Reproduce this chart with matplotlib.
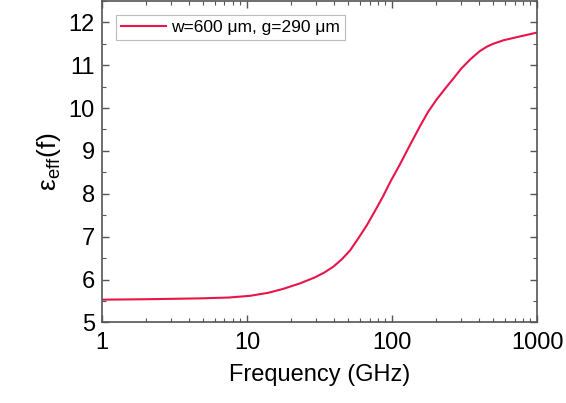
import matplotlib
matplotlib.use("Agg")
import matplotlib.pyplot as plt
from matplotlib.ticker import MultipleLocator, LogLocator, NullFormatter

plt.rcParams['font.family'] = ['Liberation Sans', 'DejaVu Sans']

# values
freq_ghz = [1, 2, 4.7, 7.5, 10.5, 14, 17.7, 23.2, 29.4, 34, 39.4, 45, 51.4, 58, 66.9, 76, 87, 97,
            113.5, 135, 156, 178, 203, 232, 265, 300, 345, 400, 450, 500, 587, 764, 1000]
eps_eff = [5.53, 5.54, 5.56, 5.58, 5.62, 5.69, 5.78, 5.91, 6.05, 6.16, 6.30, 6.47, 6.68, 6.94, 7.26,
           7.59, 7.95, 8.27, 8.69, 9.18, 9.58, 9.92, 10.20, 10.45, 10.69, 10.92, 11.13,
           11.32, 11.43, 11.50, 11.58, 11.67, 11.76]
series_label = 'w=600 μm, g=290 μm'

fig = plt.figure(figsize=(5.66, 4.03), dpi=100)
ax = fig.add_axes([0.180, 0.200, 0.769, 0.798])

ax.plot(freq_ghz, eps_eff, color='#e8144a', lw=1.5, label=series_label)

ax.set_xscale('log')
ax.set_xlim(1, 1000)
ax.set_ylim(5, 12.5)
ax.yaxis.set_major_locator(MultipleLocator(1))
ax.yaxis.set_minor_locator(MultipleLocator(0.5))
ax.xaxis.set_minor_locator(LogLocator(base=10, subs=range(2, 10)))
ax.xaxis.set_minor_formatter(NullFormatter())
ax.set_xticks([1, 10, 100, 1000])
ax.set_xticklabels(['1', '10', '100', '1000'])

for sp in ax.spines.values():
    sp.set_color('#555555')
    sp.set_linewidth(1.2)
ax.tick_params(which='both', direction='in', top=True, right=True, colors='#555555',
               labelcolor='black', labelsize=17)
ax.tick_params(which='major', length=5, width=1)
ax.tick_params(which='minor', length=3, width=0.8)
ax.tick_params(axis='x', pad=7)
ax.tick_params(axis='y', pad=5)

ax.set_xlabel('Frequency (GHz)', fontsize=17, labelpad=7)
ax.set_ylabel('ε$_\\mathregular{eff}$(f)', fontsize=19, labelpad=4)

leg = ax.legend(loc='upper left', fontsize=12.5, fancybox=False, edgecolor='#aaaaaa',
                handlelength=2.6, handletextpad=0.3, borderaxespad=0.8, borderpad=0.3)
leg.get_frame().set_linewidth(0.8)

fig.savefig('out.png', dpi=100)
